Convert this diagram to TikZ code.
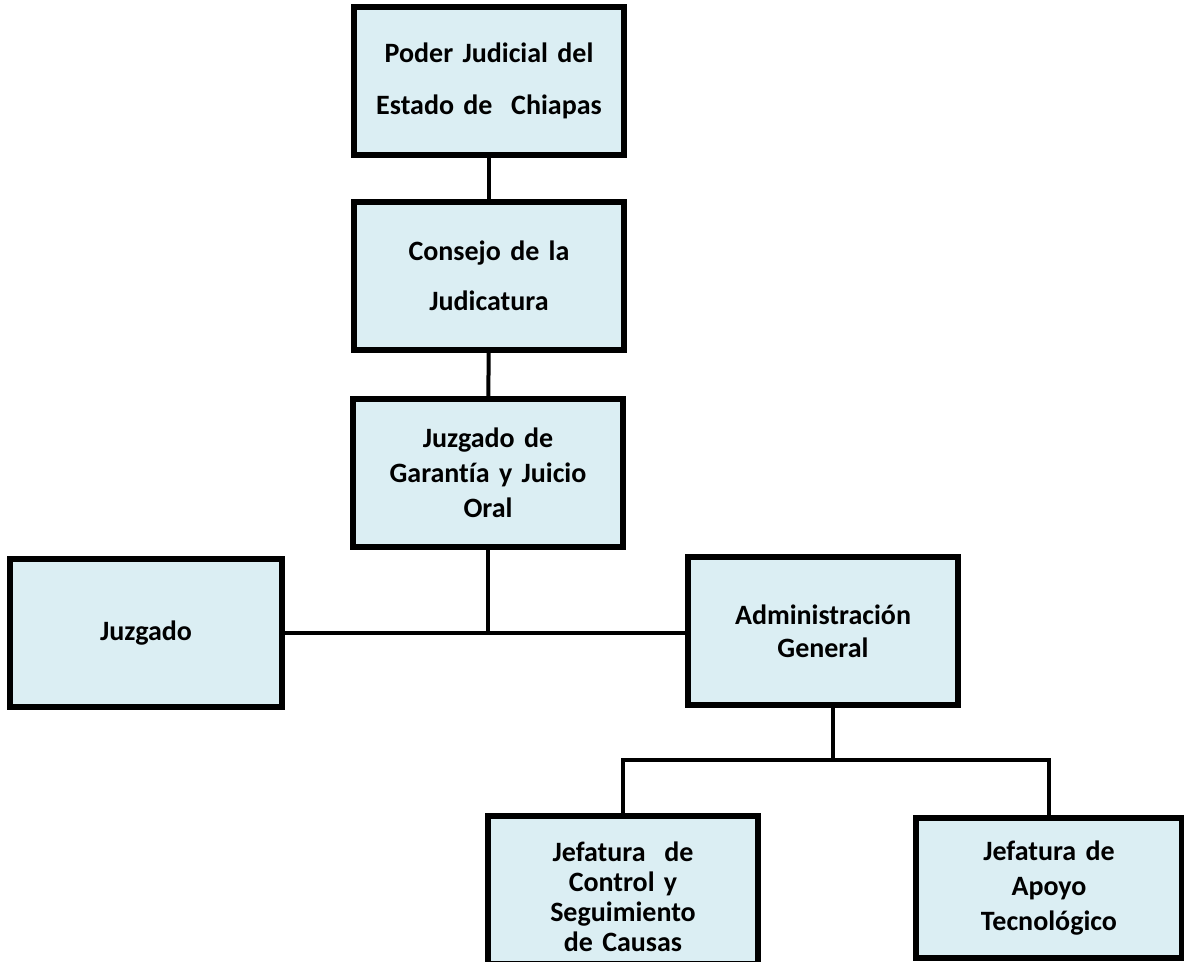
\documentclass[tikz,border=0pt]{standalone}
\usepackage{fontspec}
\setmainfont{Carlito}[Ligatures=NoCommon]
\definecolor{boxfill}{RGB}{219,238,243}
\begin{document}
\begin{tikzpicture}[x=0.5pt,y=-0.5pt,
  orgbox/.style={draw=black, line width=3pt, fill=boxfill, rectangle,
    minimum width=135pt, minimum height=74pt, inner sep=0pt,
    align=center, text width=130pt, font=\bfseries\fontsize{14}{17.5}\selectfont},
  conn/.style={line width=2pt}]
\useasboundingbox (0,0) rectangle (1184,962);
\node[orgbox] (b1) at (489,81) {Poder Judicial del\\[8.5pt]Estado de~ Chiapas};
\node[orgbox] (b2) at (489,276) {Consejo de la\\[7.5pt]Judicatura};
\node[orgbox] (b3) at (488,473) {Juzgado de\\Garantía y Juicio\\Oral};
\node[orgbox, minimum width=136pt] (juz) at (146,633) {Juzgado};
\node[orgbox, font=\bfseries\fontsize{14}{16.5}\selectfont] (adm) at (823,631) {Administración\\General};
\node[orgbox, font=\bfseries\fontsize{14}{15}\selectfont] (ctrl) at (623,890) {\rule{0pt}{17pt}Jefatura~ de\\Control y\\Seguimiento\\de Causas};
\node[orgbox, minimum width=133pt, minimum height=70pt] (apo) at (1049,888) {Jefatura de\\Apoyo\\Tecnológico};
\coordinate (aj) at (833,760);
\draw[conn] (b1) -- (b2);
\draw[conn] (b2) -- (b3);
\draw[conn] (b3.south) -- (b3.south |- juz.east);
\draw[conn] (juz.east) -- (juz.east -| adm.west);
\draw[conn] (adm.south -| aj) -- (aj);
\draw[conn] (ctrl.north) |- (aj) -| (apo.north);
\end{tikzpicture}
\end{document}
